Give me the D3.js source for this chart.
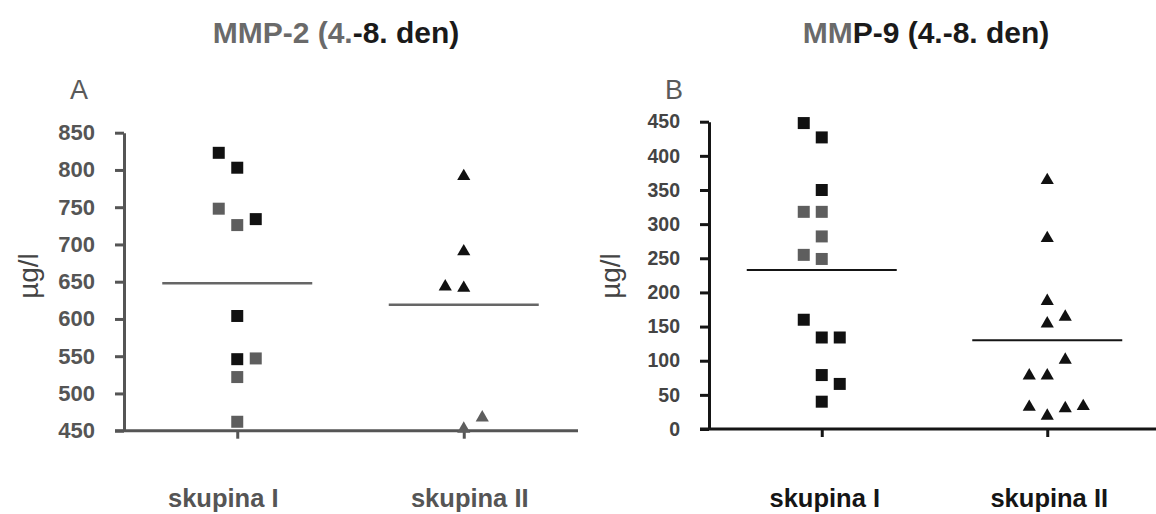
<!DOCTYPE html>
<html>
<head>
<meta charset="utf-8">
<script src="https://cdn.jsdelivr.net/npm/d3@7"></script>
<style>
  html, body { margin: 0; padding: 0; background: #ffffff; }
  svg { display: block; font-family: "Liberation Sans", Arial, Helvetica, sans-serif; }
</style>
</head>
<body>
<svg id="chart" width="1156" height="514"></svg>
<script>
// ---------------- data ----------------
const categories = ["skupina I", "skupina II"];

// Panel A: MMP-2 (µg/l)
const mmp2Ticks = [450, 500, 550, 600, 650, 700, 750, 800, 850];
const mmp2GroupI = [823, 803, 748, 726, 734, 604, 546, 547, 522, 462];
const mmp2GroupIColumn = [-1, 0, -1, 0, 1, 0, 0, 1, 0, 0];
const mmp2GroupIFaded = [0, 0, 1, 1, 0, 0, 0, 1, 1, 1];
const mmp2GroupII = [794, 693, 646, 644, 470, 455];
const mmp2GroupIIColumn = [0, 0, -1, 0, 1, 0];
const mmp2GroupIIFaded = [0, 0, 0, 0, 1, 1];
const mmp2Means = [648, 619];

// Panel B: MMP-9 (µg/l)
const mmp9Ticks = [0, 50, 100, 150, 200, 250, 300, 350, 400, 450];
const mmp9GroupI = [448, 427, 350, 318, 318, 282, 255, 249, 160, 134, 134, 79, 66, 40];
const mmp9GroupIColumn = [-1, 0, 0, -1, 0, 0, -1, 0, -1, 0, 1, 0, 1, 0];
const mmp9GroupIFaded = [0, 0, 0, 1, 1, 1, 1, 1, 0, 0, 0, 0, 0, 0];
const mmp9GroupII = [367, 282, 190, 157, 167, 104, 81, 81, 35, 22, 33, 36];
const mmp9GroupIIColumn = [0, 0, 0, 0, 1, 1, -1, 0, -1, 0, 1, 2];
const mmp9GroupIIFaded = [0, 0, 0, 0, 0, 0, 0, 0, 0, 0, 0, 0];
const mmp9Means = [233, 130];

// ---------------- drawing ----------------
const svg = d3.select("#chart");

function drawPanel(cfg) {
  const g = svg.append("g");
  const y = d3.scaleLinear().domain(cfg.yDomain).range([cfg.yBottom, cfg.yTop]);
  const x = d3.scalePoint().domain(categories).range([cfg.xLeft, cfg.xRight]).padding(0.5);

  // Title
  const t = g.append("text")
    .attr("x", cfg.titleX).attr("y", 43)
    .attr("text-anchor", "middle")
    .attr("font-size", cfg.titleSize)
    .attr("font-weight", cfg.titleWeight);
  t.append("tspan").attr("fill", "#6a6a6a").text(cfg.titleA);
  t.append("tspan").attr("fill", "#1a1a1a").text(cfg.titleB);

  // Panel letter
  g.append("text")
    .attr("x", cfg.letterX).attr("y", 99)
    .attr("font-size", 27)
    .attr("fill", "#5a5a5a")
    .text(cfg.letter);

  // Y axis label
  g.append("text")
    .attr("transform", `translate(${cfg.unitX},276) rotate(-90)`)
    .attr("text-anchor", "middle")
    .attr("font-size", 28)
    .attr("fill", "#444")
    .text("µg/l");

  // Y axis
  const yAxis = g.append("g")
    .attr("transform", `translate(${cfg.xLeft},0)`)
    .call(d3.axisLeft(y).tickValues(cfg.ticks).tickSize(9).tickSizeOuter(0).tickPadding(20));
  yAxis.select(".domain").attr("stroke", cfg.axisColor).attr("stroke-width", 3);
  yAxis.selectAll(".tick line").attr("stroke", cfg.axisColor).attr("stroke-width", 3);
  yAxis.selectAll(".tick text")
    .attr("font-size", cfg.tickSize)
    .attr("font-weight", "bold")
    .attr("font-family", "'Liberation Sans', Arial, sans-serif")
    .attr("fill", cfg.tickColor);

  // X axis (ticks only) + baseline
  const baseY = y(cfg.yDomain[0]);
  const xAxis = g.append("g")
    .attr("transform", `translate(0,${baseY})`)
    .call(d3.axisBottom(x).tickSize(8).tickFormat(""));
  xAxis.select(".domain").remove();
  xAxis.selectAll(".tick line").attr("stroke", cfg.axisColor).attr("stroke-width", 3);
  g.append("line")
    .attr("x1", cfg.xLeft - 9).attr("x2", cfg.lineEnd)
    .attr("y1", baseY).attr("y2", baseY)
    .attr("stroke", cfg.axisColor).attr("stroke-width", 3);

  // Category labels
  g.selectAll("text.cat").data(categories).join("text")
    .attr("class", "cat")
    .attr("x", (d, i) => x(d) + cfg.labelDx[i])
    .attr("y", 507)
    .attr("text-anchor", "middle")
    .attr("font-size", 25.5)
    .attr("font-weight", "bold")
    .attr("fill", cfg.labelColor)
    .text(d => d);

  // Mean lines
  g.selectAll("line.mean").data(cfg.means).join("line")
    .attr("class", "mean")
    .attr("x1", (d, i) => x(categories[i]) - 75)
    .attr("x2", (d, i) => x(categories[i]) + 75)
    .attr("y1", d => y(d)).attr("y2", d => y(d))
    .attr("stroke", cfg.meanColor).attr("stroke-width", cfg.meanWidth);

  // Points
  const sq = d3.symbol().type(d3.symbolSquare).size(144);
  const triSize = 75;
  const tri = d3.symbol().type(d3.symbolTriangle).size(triSize);
  const triShift = Math.sqrt(triSize / (3 * Math.sqrt(3))) / 2;

  const ptsI = cfg.groupI.map((v, i) => ({ v, c: cfg.colI[i], f: cfg.fadedI[i] }));
  const ptsII = cfg.groupII.map((v, i) => ({ v, c: cfg.colII[i], f: cfg.fadedII[i] }));

  g.selectAll("path.sq").data(ptsI).join("path")
    .attr("class", "sq")
    .attr("d", sq)
    .attr("transform", d => `translate(${x(categories[0]) + d.c * cfg.colStep},${y(d.v)})`)
    .attr("fill", d => d.f ? "#5e5e5e" : "#111");

  g.selectAll("path.tri").data(ptsII).join("path")
    .attr("class", "tri")
    .attr("d", tri)
    .attr("transform", d => `translate(${x(categories[1]) + d.c * cfg.colStep},${y(d.v) + triShift})`)
    .attr("fill", d => d.f ? "#5e5e5e" : "#111");
}

drawPanel({
  yDomain: [450, 850], yBottom: 430.7, yTop: 132.7,
  xLeft: 124, xRight: 577, lineEnd: 578,
  ticks: mmp2Ticks, tickSize: 22, tickColor: "#555",
  axisColor: "#555",
  titleX: 336, titleA: "MMP-2 (4.", titleB: "-8. den)", titleSize: 30, titleWeight: "bold",
  letter: "A", letterX: 70, unitX: 38,
  labelColor: "#555", labelDx: [-14, 6],
  means: mmp2Means, meanColor: "#666", meanWidth: 2.5,
  groupI: mmp2GroupI, colI: mmp2GroupIColumn, fadedI: mmp2GroupIFaded,
  groupII: mmp2GroupII, colII: mmp2GroupIIColumn, fadedII: mmp2GroupIIFaded,
  colStep: 18.5
});

drawPanel({
  yDomain: [0, 450], yBottom: 429, yTop: 121.7,
  xLeft: 709, xRight: 1160, lineEnd: 1156,
  ticks: mmp9Ticks, tickSize: 19.5, tickColor: "#444",
  axisColor: "#151515",
  titleX: 926, titleA: "MM", titleB: "P-9 (4.-8. den)", titleSize: 30, titleWeight: "bold",
  letter: "B", letterX: 665, unitX: 620,
  labelColor: "#151515", labelDx: [3, 2],
  means: mmp9Means, meanColor: "#151515", meanWidth: 2,
  groupI: mmp9GroupI, colI: mmp9GroupIColumn, fadedI: mmp9GroupIFaded,
  groupII: mmp9GroupII, colII: mmp9GroupIIColumn, fadedII: mmp9GroupIIFaded,
  colStep: 18
});
</script>
</body>
</html>
